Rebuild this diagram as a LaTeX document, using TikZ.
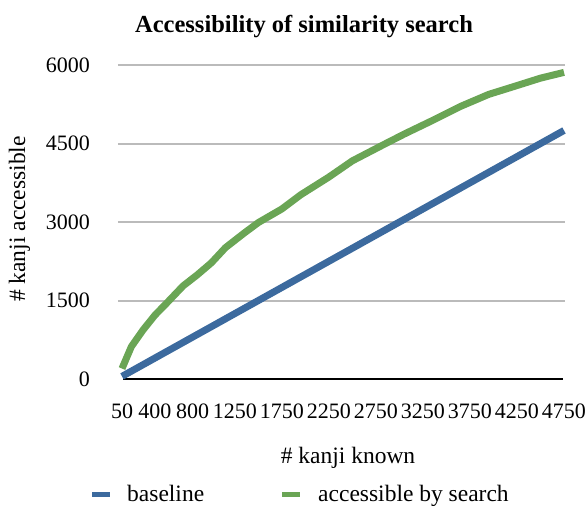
\documentclass[tikz,border=0pt]{standalone}
\usepackage{fontspec}
\setmainfont{Liberation Serif}
\usetikzlibrary{positioning}
\definecolor{lineblue}{HTML}{3C6A9E}
\definecolor{linegreen}{HTML}{6AA555}
\definecolor{gridgray}{HTML}{BBBBBB}
\begin{document}
\begin{tikzpicture}[x=1pt,y=-1pt,
    ticklabel/.style={font=\fontsize{22}{22}\selectfont, inner sep=0pt},
    axistitle/.style={font=\fontsize{23.5}{24}\selectfont, inner sep=0pt},
    serie/.style={line width=7pt, line join=round},
    gridline/.style={gridgray, line width=2pt}]
  \useasboundingbox (0,0) rectangle (587,506);
  % Titolo
  \node[font=\bfseries\fontsize{24.5}{25}\selectfont, inner sep=0pt, anchor=base] (title) at (304,32) {Accessibility of similarity search};
  % Area del grafico
  \begin{scope}[shift={(117.3,379)}, x=0.094043pt, y=0.05233pt]
    \foreach \v in {1500,3000,4500,6000}
      \draw[gridline] (7,\v) -- (4760,\v);
    \draw[black, line width=2pt] (62,0) -- (4740,0);
    \foreach \v in {0,1500,3000,4500,6000}
      \node[ticklabel, anchor=east] (y\v) at (-290,\v) {\v};
    \foreach \k in {50,400,800,1250,1750,2250,2750,3250,3750,4250,4750}
      \node[ticklabel, anchor=base, yshift=-39pt] (x\k) at (\k,0) {\k};
    % Serie
    \draw[serie, lineblue] (50,50) -- (4750,4750);
    \draw[serie, linegreen] (50,200) -- (150,620) -- (275,940) -- (400,1220)
      -- (525,1450) -- (700,1780) -- (850,1990) -- (1000,2220) -- (1150,2510)
      -- (1350,2790) -- (1500,2990) -- (1750,3250) -- (1950,3520) -- (2250,3860)
      -- (2500,4170) -- (2800,4450) -- (3050,4680) -- (3350,4940) -- (3650,5210)
      -- (3950,5440) -- (4200,5580) -- (4500,5750) -- (4750,5860);
  \end{scope}
  % Etichette degli assi
  \node[axistitle, anchor=base] (xtitle) at (348,463) {\# kanji known};
  \node[axistitle, anchor=base, rotate=90] (ytitle) at (25,219) {\# kanji accessible};
  % Legenda
  \node[axistitle, anchor=base west] (legbase) at (127,501) {baseline};
  \node[axistitle, anchor=base west] (legsearch) at (318,501) {accessible by search};
  \coordinate (b1) at (92,494);
  \coordinate (b2) at (110,494);
  \coordinate (s1) at (282,494);
  \coordinate (s2) at (300,494);
  \draw[lineblue, line width=5pt] (b1) -- (b2);
  \draw[linegreen, line width=5pt] (s1) -- (s2);
\end{tikzpicture}
\end{document}
